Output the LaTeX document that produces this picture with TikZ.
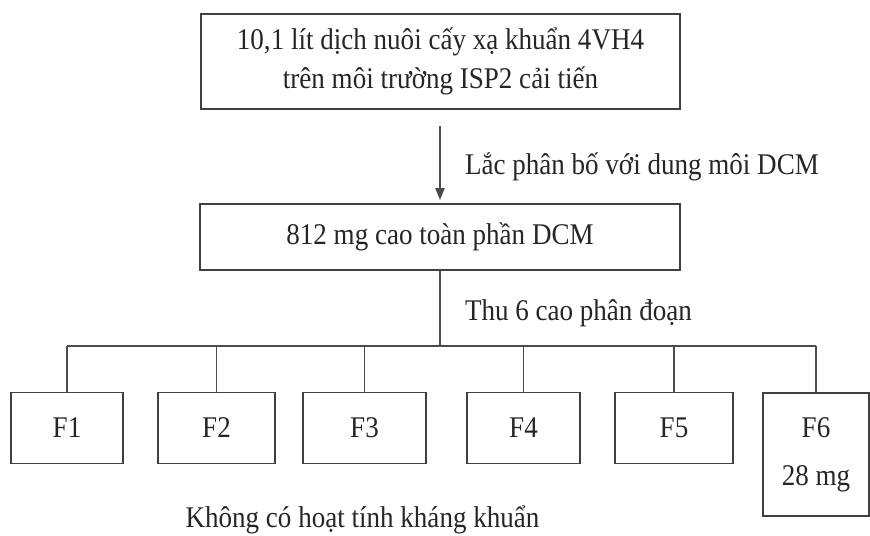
\documentclass[tikz,border=0pt]{standalone}
\usepackage{fontspec}
\setmainfont[FakeStretch=0.9]{Liberation Serif}
\usetikzlibrary{arrows.meta}
\begin{document}
\begin{tikzpicture}[font=\fontsize{17.1}{22}\selectfont, every node/.style={outer sep=0pt, text=black!85}, box/.style={draw=black!75, line width=1pt, inner sep=0pt, align=center}, lbl/.style={anchor=west, inner sep=0pt}, wire/.style={draw=black!70, line width=0.7pt}, line join=miter]
        \useasboundingbox (0, 0) rectangle (17.4, -10.7);
        \node[box, minimum width=9.58cm, minimum height=1.9cm] (culture) at (8.81, -1.23) {10,1 lít dịch nuôi cấy xạ khuẩn 4VH4\\trên môi trường ISP2 cải tiến};
        \node[box, minimum width=9.6cm, minimum height=1.32cm] (crude) at (8.8, -4.74) {812 mg cao toàn phần DCM};
        \draw[wire, -{Triangle[length=0.24cm, width=0.19cm]}, shorten <=0.34cm, shorten >=0.08cm] (crude.north |- culture.south) -- (crude.north);
        \node[lbl] (shake) at (9.3, -3.34) {Lắc phân bố với dung môi DCM};
        
        \node[lbl] (collect) at (9.3, -6.26) {Thu 6 cao phân đoạn};
        \coordinate (bar) at (8.8, -6.92);
        
        \node[box, minimum width=2.24cm, minimum height=1.42cm] (f1) at (1.34, -8.56) {F1};
        \node[box, minimum width=2.34cm, minimum height=1.42cm] (f2) at (4.33, -8.56) {F2};
        \node[box, minimum width=2.46cm, minimum height=1.42cm] (f3) at (7.29, -8.56) {F3};
        \node[box, minimum width=2.26cm, minimum height=1.42cm] (f4) at (10.47, -8.56) {F4};
        \node[box, minimum width=2.36cm, minimum height=1.42cm] (f5) at (13.48, -8.56) {F5};
        \node[box, minimum width=2.12cm, minimum height=2.46cm] (f6) at (16.32, -9.09) {F6\\[5.3pt]28 mg};
        
        \draw[wire] (crude.south) -- (crude.south |- bar);
        \draw[wire] (f1.north |- bar) -- (f6.north |- bar);
        \foreach \i in {1,...,6}
            \draw[wire] (f\i.north |- bar) -- (f\i.north);
        
        \node (inactive) at (7.25, -10.4) {Không có hoạt tính kháng khuẩn};
    \end{tikzpicture}
\end{document}
